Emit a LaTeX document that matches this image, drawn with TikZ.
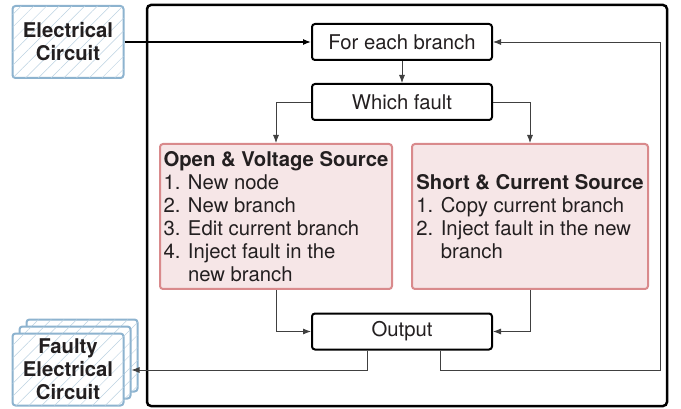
\documentclass[tikz,border=0pt]{standalone}
\usepackage{fontspec}
\setmainfont{TeX Gyre Heros}
\usetikzlibrary{arrows.meta,patterns.meta,calc}
\definecolor{pinkfill}{HTML}{F6E6E7}
\definecolor{pinkline}{HTML}{D98A8C}
\definecolor{blueline}{HTML}{8DB3CF}
\definecolor{bluehatch}{HTML}{BCD2E2}
\definecolor{txt}{HTML}{231F20}
\begin{document}
\begin{tikzpicture}[x=1pt,y=-1pt,
  font=\fontsize{20.3}{23}\selectfont, text=txt,
  proc/.style={draw=black, line width=2pt, rounded corners=3pt, minimum width=180pt, minimum height=36pt, inner sep=0pt},
  fault/.style={draw=pinkline, fill=pinkfill, line width=2pt, rounded corners=3pt, align=left, inner sep=0pt, minimum height=145pt},
  circ/.style={draw=blueline, line width=2pt, rounded corners=3pt, fill=white,
    postaction={pattern={Lines[angle=45,distance=9pt,line width=0.5pt]}, pattern color=bluehatch},
    minimum width=111pt, minimum height=72pt, inner sep=0pt, align=center, font=\fontsize{20.3}{23}\selectfont\bfseries},
  conn/.style={draw=black!75, line width=0.8pt, -{Latex[length=8pt,width=6pt]}},
  frame/.style={draw=black, line width=2.5pt, rounded corners=4pt, minimum width=520pt, minimum height=401pt, inner sep=0pt},
]
\useasboundingbox (0,0) rectangle (681,409);
\node[frame] (fr) at (407,205.5) {};
\node[circ] (ec) at (68,42) {Electrical\\Circuit};
\node[proc] (feb) at (402,42) {For each branch};
\node[proc] (wf) at (402,102) {Which fault};
\node[fault, minimum width=232pt] (ovs) at (276,216.5) {\textbf{Open \& Voltage Source}\\1. New node\\2. New branch\\3. Edit current branch\\4. Inject fault in the\\\phantom{4. }new branch};
\node[fault, minimum width=236pt] (scs) at (530,216.5) {\textbf{Short \& Current Source}\\1. Copy current branch\\2. Inject fault in the new\\\phantom{2. }branch};
\node[proc] (out) at (402,331.5) {Output};
\node[circ] (fc3) at (82,355.5) {};
\node[circ] (fc2) at (75,362.5) {};
\node[circ] (fc1) at (68,369.5) {Faulty\\Electrical\\Circuit};
\coordinate (fy) at (0,370);
\coordinate (rc) at (660,370);
\draw[conn, draw=black, line width=1.2pt] (ec.east) -- (feb.west);
\draw[conn] (feb.south) -- (wf.north);
\draw[conn] (wf.west) -| (ovs.north);
\draw[conn] (wf.east) -| (scs.north);
\draw[conn] (ovs.south) |- (out.west);
\draw[conn] (scs.south) |- (out.east);
\draw[conn] ([xshift=-35pt]out.south) |- (fc2.east |- fy);
\draw[conn] ([xshift=38pt]out.south) |- (rc) |- (feb.east);
\end{tikzpicture}
\end{document}
